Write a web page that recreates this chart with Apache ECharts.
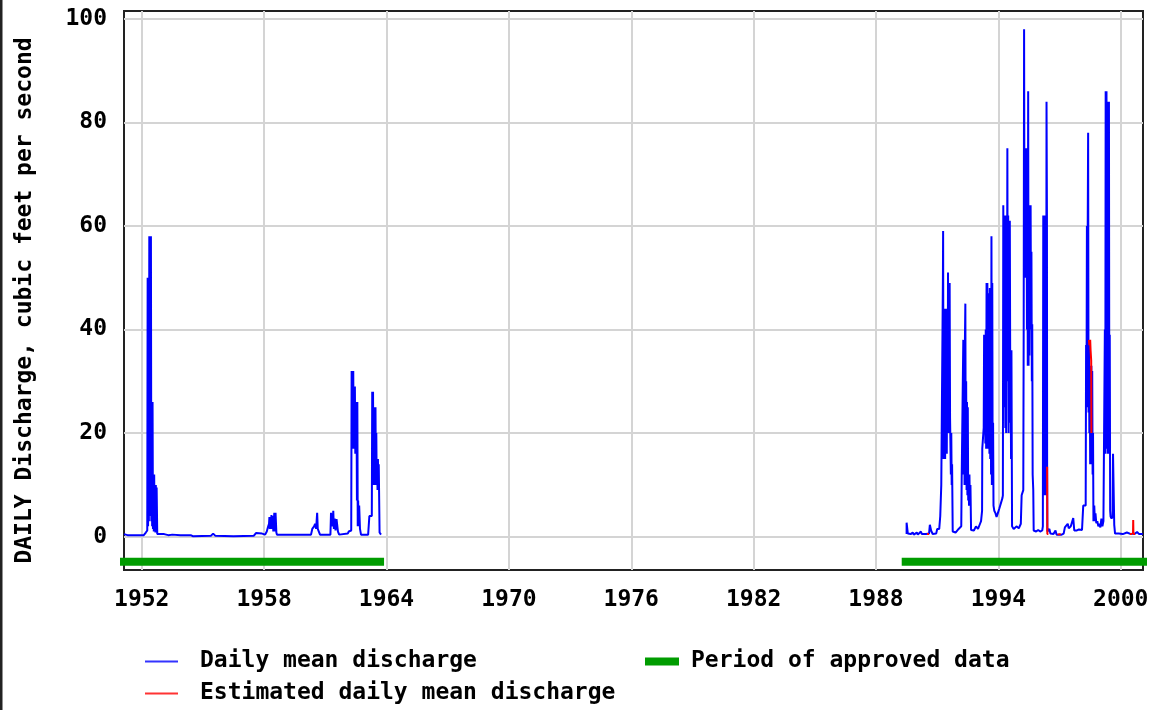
<!DOCTYPE html>
<html><head><meta charset="utf-8">
<script src="https://cdn.jsdelivr.net/npm/echarts@6/dist/echarts.min.js"></script>
<style>html,body{margin:0;padding:0;background:#fff}#c{width:1154px;height:710px}</style>
</head><body><div id="c"></div>
<script>
// Tick values
const xTicks = [1952, 1958, 1964, 1970, 1976, 1982, 1988, 1994, 2000];
const yTicks = [0, 20, 40, 60, 80, 100];

// Daily mean discharge, cubic feet per second  [decimal year, value]
const discharge1951to1963 = [
  [1951.13,0.5],[1951.3,0.3],[1951.7,0.3],[1952.1,0.3],[1952.2,0.8],[1952.27,1.2],
  [1952.29,50],[1952.31,2],[1952.33,50],[1952.35,3],[1952.37,58],[1952.39,4],[1952.41,58],[1952.43,5],
  [1952.45,58],[1952.47,3],[1952.49,26],[1952.51,2],[1952.53,26],[1952.55,1.5],[1952.57,12],[1952.59,1],
  [1952.61,12],[1952.63,1],[1952.65,10],[1952.67,0.8],[1952.69,10],[1952.71,0.8],[1952.73,9.5],[1952.76,0.5],
  [1952.8,0.4],[1953.1,0.5],[1953.3,0.3],[1953.5,0.4],[1953.9,0.3],[1954.4,0.3],[1954.5,0.1],[1955.4,0.2],
  [1955.5,0.6],[1955.6,0.2],[1956.5,0.1],[1957.5,0.2],[1957.6,0.7],[1957.9,0.6],[1958.05,0.4],
  [1958.13,1],[1958.2,2],[1958.24,2.5],[1958.26,3.8],[1958.28,1.5],[1958.3,3.5],[1958.33,2],[1958.36,4.2],
  [1958.38,1.5],[1958.42,4],[1958.45,1],[1958.48,3.5],[1958.5,4.6],[1958.53,1],[1958.56,4.6],[1958.6,0.8],[1958.63,0.4],
  [1959.5,0.4],[1960.3,0.4],[1960.36,1.5],[1960.45,2],[1960.5,2.5],[1960.55,1.5],[1960.6,4.6],[1960.63,1.5],
  [1960.7,1.3],[1960.74,0.4],[1961.25,0.4],[1961.28,4.6],[1961.33,4.6],[1961.36,2],[1961.39,5],[1961.42,1.5],
  [1961.46,3.5],[1961.5,1.2],[1961.55,3.4],[1961.62,1],[1961.68,0.4],[1962.1,0.6],[1962.15,1],[1962.27,1.2],
  [1962.29,32],[1962.31,18],[1962.33,32],[1962.35,17],[1962.37,32],[1962.39,17],[1962.41,29],[1962.43,17],
  [1962.45,29],[1962.47,16],[1962.49,26],[1962.51,16],[1962.53,26],[1962.55,7],[1962.57,26],[1962.59,2],
  [1962.61,7],[1962.63,2],[1962.66,6],[1962.7,1.5],[1962.75,0.4],[1963.1,0.4],[1963.16,4],[1963.28,4],
  [1963.3,28],[1963.32,10],[1963.34,28],[1963.36,10],[1963.38,20],[1963.4,10],[1963.42,25],[1963.44,10],
  [1963.46,25],[1963.48,11],[1963.5,20],[1963.52,10],[1963.54,15],[1963.56,9],[1963.58,15],[1963.6,9],
  [1963.62,14],[1963.66,0.8],[1963.73,0.4]
];
const discharge1989to2001 = [
  [1989.5,0.5],[1989.5,2.7],[1989.55,2.7],[1989.56,0.6],[1989.7,0.5],[1989.8,0.8],[1989.85,0.4],[1990.0,0.8],
  [1990.05,0.4],[1990.2,1.0],[1990.25,0.5],[1990.45,0.5],[1990.6,0.6],[1990.64,2.3],[1990.7,1.2],[1990.78,0.5],
  [1990.95,0.6],[1991.0,1.5],[1991.1,1.5],[1991.15,4],[1991.2,10],[1991.26,10],[1991.28,50],[1991.29,59],
  [1991.31,15],[1991.33,44],[1991.35,15],[1991.37,44],[1991.39,15],[1991.41,44],[1991.43,16],[1991.45,44],
  [1991.47,16],[1991.49,40],[1991.51,20],[1991.53,51],[1991.55,20],[1991.57,49],[1991.59,23],[1991.61,49],
  [1991.63,23],[1991.65,23],[1991.67,12],[1991.69,20],[1991.71,10],[1991.73,14],[1991.76,1.0],[1991.9,0.8],
  [1992.05,1.5],[1992.1,1.2],[1992.18,2],[1992.2,11],[1992.26,11],[1992.28,38],[1992.3,12],[1992.32,38],
  [1992.34,10],[1992.36,38],[1992.38,45],[1992.4,12],[1992.42,30],[1992.44,9],[1992.46,26],[1992.48,8],
  [1992.5,25],[1992.52,7],[1992.54,12],[1992.56,6],[1992.58,12],[1992.6,7],[1992.63,10],[1992.66,1.3],
  [1992.8,1.2],[1992.9,2],[1993.0,1.5],[1993.1,2.5],[1993.15,3],[1993.2,5],[1993.21,17],[1993.26,17],
  [1993.28,21],[1993.3,39],[1993.32,20],[1993.34,39],[1993.36,18],[1993.38,40],[1993.4,17],[1993.42,49],
  [1993.44,18],[1993.46,49],[1993.48,17],[1993.5,47],[1993.52,20],[1993.54,47],[1993.56,16],[1993.58,48],
  [1993.6,15],[1993.62,44],[1993.64,12],[1993.66,58],[1993.68,10],[1993.7,49],[1993.72,10],[1993.74,22],
  [1993.76,6],[1993.8,5],[1993.86,4.5],[1993.91,3.8],[1993.97,4.5],[1994.05,5.5],[1994.12,5.5],[1994.2,7.5],
  [1994.22,8],[1994.24,64],[1994.26,30],[1994.28,62],[1994.3,25],[1994.32,62],[1994.34,21],[1994.36,62],
  [1994.38,20],[1994.4,62],[1994.42,32],[1994.44,75],[1994.46,30],[1994.48,62],[1994.5,20],[1994.52,61],
  [1994.54,22],[1994.56,61],[1994.58,32],[1994.6,36],[1994.62,15],[1994.64,36],[1994.67,2],[1994.75,1.5],
  [1994.9,2],[1995.0,1.6],[1995.1,2.5],[1995.14,8],[1995.22,9],[1995.24,40],[1995.26,98],[1995.28,52],
  [1995.3,75],[1995.32,50],[1995.34,75],[1995.36,52],[1995.38,75],[1995.4,40],[1995.42,70],[1995.44,33],
  [1995.46,86],[1995.48,33],[1995.5,64],[1995.52,35],[1995.54,64],[1995.56,40],[1995.58,64],[1995.6,40],
  [1995.62,55],[1995.64,30],[1995.66,41],[1995.68,12],[1995.71,9],[1995.73,1.2],[1995.85,1],[1995.95,1.3],
  [1996.05,1],[1996.15,1.2],[1996.18,2],[1996.2,62],[1996.22,8],[1996.24,62],[1996.26,8],[1996.28,62],
  [1996.3,8],[1996.32,62],[1996.34,10],[1996.36,84],[1996.38,62],[1996.39,13.5],[1996.4,1],[1996.5,1.5],
  [1996.55,0.6],[1996.7,0.5],[1996.8,1.2],[1996.85,0.4],[1997.1,0.4],[1997.2,0.6],[1997.26,1.8],[1997.35,1.5],
  [1997.4,2.5],[1997.45,1.6],[1997.55,2],[1997.62,2.2],[1997.67,3.6],[1997.72,1.2],[1997.85,1.2],[1997.95,1.4],
  [1998.1,1.3],[1998.16,6],[1998.28,6],[1998.3,37],[1998.32,25],[1998.34,60],[1998.36,25],[1998.38,60],
  [1998.4,78],[1998.42,24],[1998.44,37],[1998.46,20],[1998.48,33],[1998.5,14],[1998.52,33],[1998.54,14],
  [1998.56,33],[1998.58,14],[1998.6,32],[1998.62,12],[1998.64,20],[1998.66,3],[1998.7,6],[1998.73,3],
  [1998.76,4.5],[1998.8,2.6],[1998.85,3],[1998.9,2],[1998.95,2.5],[1999.0,1.8],[1999.05,3.5],[1999.1,2],
  [1999.15,3],[1999.2,3],[1999.22,40],[1999.24,16],[1999.26,86],[1999.28,20],[1999.3,86],[1999.32,17],
  [1999.34,84],[1999.36,16],[1999.38,84],[1999.4,17],[1999.42,84],[1999.44,16],[1999.46,39],[1999.48,5],
  [1999.5,3.9],[1999.55,3.5],[1999.6,4],[1999.62,16],[1999.66,16],[1999.68,2.3],[1999.72,0.6],[1999.9,0.6],
  [2000.1,0.5],[2000.3,0.8],[2000.5,0.5],[2000.7,0.6],[2000.8,0.9],[2000.9,0.5],[2001.08,0.5]
];
// Estimated daily mean discharge (null = gap)
const estimated = [
  [1990.5,0.5],[1990.56,0.8],[1990.6,0.5],[1990.61,null],
  [1996.39,13.5],[1996.4,0.5],[1996.45,0.5],[1996.46,null],
  [1996.9,0.4],[1997.0,0.5],[1997.05,0.4],[1997.06,null],
  [1998.44,38],[1998.46,37],[1998.5,38],[1998.52,36],[1998.55,34],[1998.56,20],[1998.57,null],
  [2000.45,0.5],[2000.55,0.5],[2000.56,null],
  [2000.6,0.5],[2000.61,3.2],[2000.62,0.5],[2000.7,0.5]
];
// Periods of approved data [start, end] in decimal years
const approvedPeriods = [[1950.89, 1963.88], [1989.26, 2001.29]];
const approvedLevel = -4.83;

const FONT = 'DejaVu Sans Mono';
const approvedLine = [];
approvedPeriods.forEach((p, i) => {
  if (i > 0) approvedLine.push([(approvedPeriods[i-1][1] + p[0]) / 2, null]);
  approvedLine.push([p[0], approvedLevel], [p[1], approvedLevel]);
});
const dailyMean = discharge1951to1963.concat([[1976, null]], discharge1989to2001);

const chart = echarts.init(document.getElementById('c'), null, {renderer: 'canvas'});
const txt = {fontFamily: FONT, fontWeight: 'bold', fontSize: 23, color: '#000'};
function legendItem(left, top, name, color, w, h, pad) {
  return {
    orient: 'horizontal', left: left, top: top, padding: 0, itemWidth: w, itemHeight: h,
    textStyle: Object.assign({padding: [0, 0, 0, pad], lineHeight: 22}, txt),
    data: [{name: name, icon: 'rect', itemStyle: {color: color}}],
    selectedMode: false
  };
}
chart.setOption({
  animation: false,
  backgroundColor: '#fff',
  grid: {left: 124, right: 11, top: 11, bottom: 140, show: true, borderColor: '#222', borderWidth: 2, backgroundColor: 'transparent'},
  xAxis: {
    type: 'value', min: 1951.13, max: 2001.09,
    axisLine: {show: false},
    axisTick: {show: false, customValues: xTicks},
    axisLabel: Object.assign({customValues: xTicks, margin: 19, formatter: v => String(Math.round(v))}, txt),
    splitLine: {show: true, lineStyle: {color: '#d4d4d4', width: 2}}
  },
  yAxis: {
    type: 'value', min: -6.43, max: 101.5,
    name: 'DAILY Discharge, cubic feet per second',
    nameLocation: 'middle', nameRotate: 90, nameGap: 87,
    nameTextStyle: Object.assign({padding: [0, 0, 0, -20]}, txt),
    axisLine: {show: false},
    axisTick: {show: false, customValues: yTicks},
    axisLabel: Object.assign({customValues: yTicks, margin: 17}, txt),
    splitLine: {show: true, lineStyle: {color: '#d4d4d4', width: 2}}
  },
  legend: [
    legendItem(145, 650, 'Daily mean discharge', '#3333ff', 33, 2, 17),
    legendItem(145, 682, 'Estimated daily mean discharge', '#ff3333', 33, 2, 17),
    legendItem(645, 650, 'Period of approved data', '#009c00', 34, 8, 7)
  ],
  graphic: [{type: 'rect', left: 0, top: 0, shape: {width: 2.5, height: 710}, style: {fill: '#222'}}],
  series: [
    {name: 'Period of approved data', type: 'line', data: approvedLine, symbol: 'none', clip: false, silent: true,
     color: '#009c00', lineStyle: {color: '#009c00', width: 8}, z: 1},
    {name: 'Daily mean discharge', type: 'line', data: dailyMean, symbol: 'none', connectNulls: false,
     color: '#0000ff', lineStyle: {color: '#0000ff', width: 2, join: 'bevel'}, z: 2},
    {name: 'Estimated daily mean discharge', type: 'line', data: estimated, symbol: 'none', connectNulls: false,
     color: '#ff0000', lineStyle: {color: '#ff0000', width: 2, join: 'bevel'}, z: 3}
  ]
});
</script></body></html>
